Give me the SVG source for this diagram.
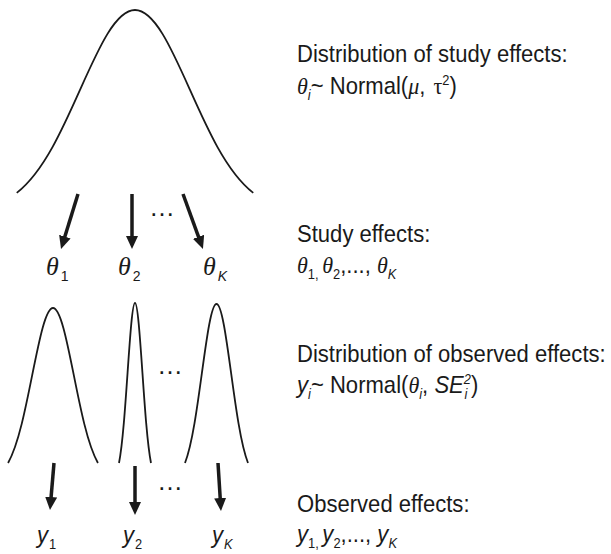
<svg xmlns="http://www.w3.org/2000/svg" width="611" height="554" viewBox="0 0 611 554">
<style>
.bg{fill:#fff}
.bell{fill:none;stroke:#1a1a1a;stroke-width:1.8;vector-effect:non-scaling-stroke}
.arr{stroke:#1a1a1a;stroke-width:3.5;fill:none;marker-end:url(#ah)}
.t{font-family:"Liberation Sans",Arial,sans-serif;font-size:24px;fill:#1a1a1a}
.m{font-family:"Liberation Serif","Times New Roman",serif;font-style:italic}
.g{font-family:"Liberation Serif","Times New Roman",serif;font-style:normal}
.s{font-size:14px}
.it{font-style:italic}
.dots{font-family:"Liberation Sans",Arial,sans-serif;font-size:26px;fill:#1a1a1a;text-anchor:middle}
</style>
<defs>
<marker id="ah" markerUnits="userSpaceOnUse" markerWidth="14" markerHeight="14" refX="7" refY="6" orient="auto">
<path d="M0,0 L13,6 L0,12 z" fill="#1a1a1a"/>
</marker>
</defs>
<rect class="bg" x="0" y="0" width="611" height="554"/>

<g id="dist-study">
<path class="bell" transform="translate(135,213) scale(55,203)" d="M-2.15,-0.0991 C-1.9333,-0.1453 -1.7167,-0.2192 -1.5,-0.3247 C-1.3333,-0.4059 -1.1667,-0.5054 -1,-0.6065 C-0.8333,-0.7076 -0.6667,-0.8089 -0.5,-0.8825 C-0.3333,-0.9561 -0.1667,-1 0,-1 C0.1667,-1 0.3333,-0.9561 0.5,-0.8825 C0.6667,-0.8089 0.8333,-0.7076 1,-0.6065 C1.1667,-0.5054 1.3333,-0.4059 1.5,-0.3247 C1.7167,-0.2192 1.9333,-0.1453 2.15,-0.0991"/>
</g>

<g id="obs-dist-1">
<path class="bell" transform="translate(53,480) scale(20.9,172)" d="M-2.15,-0.0991 C-1.9333,-0.1453 -1.7167,-0.2192 -1.5,-0.3247 C-1.3333,-0.4059 -1.1667,-0.5054 -1,-0.6065 C-0.8333,-0.7076 -0.6667,-0.8089 -0.5,-0.8825 C-0.3333,-0.9561 -0.1667,-1 0,-1 C0.1667,-1 0.3333,-0.9561 0.5,-0.8825 C0.6667,-0.8089 0.8333,-0.7076 1,-0.6065 C1.1667,-0.5054 1.3333,-0.4059 1.5,-0.3247 C1.7167,-0.2192 1.9333,-0.1453 2.15,-0.0991"/>
</g>
<g id="obs-dist-2">
<path class="bell" transform="translate(135,480.6) scale(7.44,177.6)" d="M-2.15,-0.0991 C-1.9333,-0.1453 -1.7167,-0.2192 -1.5,-0.3247 C-1.3333,-0.4059 -1.1667,-0.5054 -1,-0.6065 C-0.8333,-0.7076 -0.6667,-0.8089 -0.5,-0.8825 C-0.3333,-0.9561 -0.1667,-1 0,-1 C0.1667,-1 0.3333,-0.9561 0.5,-0.8825 C0.6667,-0.8089 0.8333,-0.7076 1,-0.6065 C1.1667,-0.5054 1.3333,-0.4059 1.5,-0.3247 C1.7167,-0.2192 1.9333,-0.1453 2.15,-0.0991"/>
</g>
<g id="obs-dist-k">
<path class="bell" transform="translate(216.5,480.5) scale(14.65,176.5)" d="M-2.15,-0.0991 C-1.9333,-0.1453 -1.7167,-0.2192 -1.5,-0.3247 C-1.3333,-0.4059 -1.1667,-0.5054 -1,-0.6065 C-0.8333,-0.7076 -0.6667,-0.8089 -0.5,-0.8825 C-0.3333,-0.9561 -0.1667,-1 0,-1 C0.1667,-1 0.3333,-0.9561 0.5,-0.8825 C0.6667,-0.8089 0.8333,-0.7076 1,-0.6065 C1.1667,-0.5054 1.3333,-0.4059 1.5,-0.3247 C1.7167,-0.2192 1.9333,-0.1453 2.15,-0.0991"/>
</g>

<g id="connectors">
<line class="arr" x1="78" y1="194" x2="62.8" y2="243.3"/>
<line class="arr" x1="132" y1="194" x2="132" y2="243"/>
<line class="arr" x1="183" y1="194" x2="200.9" y2="243.4"/>
<line class="arr" x1="54" y1="463" x2="50.5" y2="504"/>
<line class="arr" x1="135" y1="466" x2="135" y2="509"/>
<line class="arr" x1="218" y1="463" x2="220.6" y2="505"/>
</g>

<g id="ellipses">
<text class="dots" x="162" y="216">…</text>
<text class="dots" x="170" y="374">…</text>
<text class="dots" x="170" y="490">…</text>
</g>

<g id="theta-1"><text class="t" x="46" y="275"><tspan class="m" font-size="26">θ</tspan><tspan class="s" dx="2" dy="6">1</tspan></text></g>
<g id="theta-2"><text class="t" x="118" y="275"><tspan class="m" font-size="26">θ</tspan><tspan class="s" dx="2" dy="6">2</tspan></text></g>
<g id="theta-k"><text class="t" x="203" y="275"><tspan class="m" font-size="26">θ</tspan><tspan class="s it" dx="2" dy="6">K</tspan></text></g>

<g id="y-1"><text class="t" x="37" y="543" transform="translate(37,0) scale(0.92,1) translate(-37,0)"><tspan class="it">y</tspan><tspan class="s" dx="1" dy="6">1</tspan></text></g>
<g id="y-2"><text class="t" x="123" y="543" transform="translate(123,0) scale(0.92,1) translate(-123,0)"><tspan class="it">y</tspan><tspan class="s" dx="1" dy="6">2</tspan></text></g>
<g id="y-k"><text class="t" x="212" y="543" transform="translate(212,0) scale(0.92,1) translate(-212,0)"><tspan class="it">y</tspan><tspan class="s it" dx="1" dy="6">K</tspan></text></g>

<g id="label-dist-study" transform="translate(297,0) scale(0.92,1) translate(-297,0)">
<text class="t" x="297" y="62">Distribution of study effects:</text>
<text class="t" x="297" y="94"><tspan class="m">θ</tspan><tspan class="s it" dy="6">i</tspan><tspan dy="-6">~ Normal(</tspan><tspan class="m">μ</tspan><tspan>, </tspan><tspan class="g" dx="2">τ</tspan><tspan class="s" dy="-9">2</tspan><tspan dy="9">)</tspan></text>
</g>
<g id="label-study" transform="translate(297,0) scale(0.92,1) translate(-297,0)">
<text class="t" x="297" y="242">Study effects:</text>
<text class="t" x="297" y="273"><tspan class="m">θ</tspan><tspan class="s" dy="6">1, </tspan><tspan class="m" dy="-6">θ</tspan><tspan class="s" dy="6">2</tspan><tspan dy="-6">,..., </tspan><tspan class="m">θ</tspan><tspan class="s it" dy="6">K</tspan></text>
</g>
<g id="label-dist-obs" transform="translate(297,0) scale(0.92,1) translate(-297,0)">
<text class="t" x="297" y="362">Distribution of observed effects:</text>
<text class="t" x="297" y="393"><tspan class="it">y</tspan><tspan class="s it" dy="6">i</tspan><tspan dy="-6">~ Normal(</tspan><tspan class="m">θ</tspan><tspan class="s it" dy="6">i</tspan><tspan dy="-6">, </tspan><tspan class="it">SE</tspan><tspan class="s it" dy="-9">2</tspan><tspan class="s it" dx="-7" dy="15">i</tspan><tspan dx="4" dy="-6">)</tspan></text>
</g>
<g id="label-obs" transform="translate(297,0) scale(0.92,1) translate(-297,0)">
<text class="t" x="297" y="512">Observed effects:</text>
<text class="t" x="297" y="542"><tspan class="it">y</tspan><tspan class="s" dy="6">1, </tspan><tspan class="it" dy="-6">y</tspan><tspan class="s" dy="6">2</tspan><tspan dy="-6">,..., </tspan><tspan class="it">y</tspan><tspan class="s it" dy="6">K</tspan></text>
</g>
</svg>
